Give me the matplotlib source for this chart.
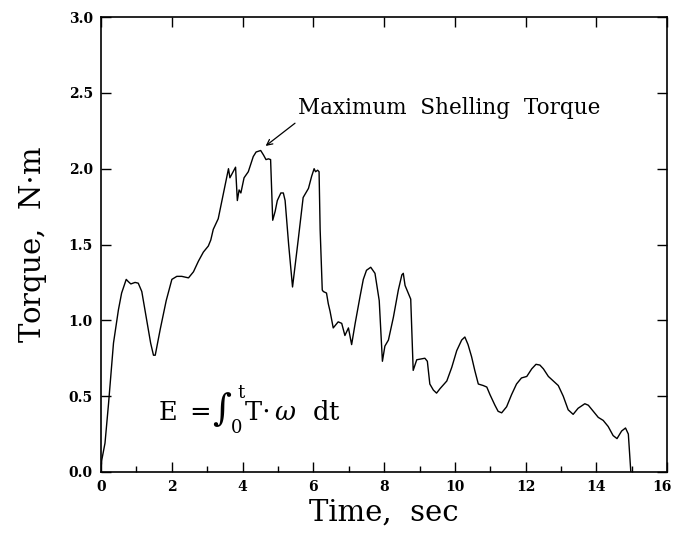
import matplotlib
matplotlib.use("Agg")
import matplotlib.pyplot as plt
import matplotlib.transforms as mtransforms
from matplotlib.ticker import MultipleLocator

time_s = [0.0, 0.02, 0.11, 0.21, 0.35, 0.49, 0.58, 0.71, 0.77, 0.84, 0.96, 1.05, 1.15, 1.29, 1.40,
          1.48, 1.53, 1.67, 1.84, 2.00, 2.14, 2.28, 2.47, 2.61, 2.75, 2.89, 3.03, 3.10, 3.17, 3.31,
          3.46, 3.60, 3.64, 3.80, 3.85, 3.90, 3.95, 4.04, 4.16, 4.30, 4.38, 4.51, 4.59, 4.66, 4.73,
          4.79, 4.85, 4.92, 4.98, 5.08, 5.15, 5.20, 5.30, 5.41, 5.57, 5.71, 5.86, 5.95, 6.02, 6.06,
          6.12, 6.16, 6.19, 6.25, 6.28, 6.37, 6.42, 6.47, 6.56, 6.70, 6.80, 6.89, 6.99, 7.08, 7.18,
          7.32, 7.41, 7.50, 7.62, 7.74, 7.86, 7.95, 8.02, 8.12, 8.26, 8.40, 8.50, 8.54, 8.59, 8.68,
          8.75, 8.82, 8.92, 9.15, 9.22, 9.29, 9.39, 9.48, 9.58, 9.77, 9.91, 10.05, 10.19, 10.28,
          10.37, 10.47, 10.56, 10.66, 10.80, 10.90, 10.99, 11.13, 11.22, 11.32, 11.46, 11.60, 11.74,
          11.88, 12.03, 12.17, 12.29, 12.40, 12.50, 12.64, 12.78, 12.92, 13.06, 13.20, 13.34, 13.48,
          13.67, 13.77, 13.91, 14.05, 14.19, 14.33, 14.47, 14.58, 14.71, 14.82, 14.90, 14.97]
torque = [0.03, 0.08, 0.19, 0.45, 0.85, 1.07, 1.18, 1.27, 1.255, 1.24, 1.25, 1.245, 1.19, 1.00, 0.85,
          0.77, 0.77, 0.94, 1.13, 1.27, 1.29, 1.29, 1.28, 1.32, 1.39, 1.45, 1.49, 1.53, 1.60, 1.67,
          1.84, 2.00, 1.94, 2.01, 1.79, 1.86, 1.84, 1.94, 1.98, 2.08, 2.11, 2.12, 2.09, 2.06, 2.065,
          2.06, 1.66, 1.72, 1.79, 1.84, 1.84, 1.79, 1.50, 1.22, 1.53, 1.81, 1.87, 1.95, 2.00, 1.98,
          1.99, 1.98, 1.60, 1.20, 1.19, 1.18, 1.11, 1.06, 0.95, 0.99, 0.98, 0.90, 0.95, 0.84, 0.98,
          1.16, 1.27, 1.33, 1.35, 1.31, 1.13, 0.73, 0.83, 0.87, 1.02, 1.20, 1.30, 1.31, 1.23, 1.18,
          1.14, 0.67, 0.74, 0.75, 0.73, 0.58, 0.54, 0.52, 0.55, 0.60, 0.69, 0.80, 0.87, 0.89,
          0.84, 0.76, 0.67, 0.58, 0.57, 0.56, 0.51, 0.44, 0.40, 0.39, 0.43, 0.51, 0.58,
          0.62, 0.63, 0.68, 0.71, 0.705, 0.68, 0.63, 0.60, 0.57, 0.50, 0.41, 0.38, 0.42,
          0.45, 0.44, 0.40, 0.36, 0.34, 0.30, 0.24, 0.22, 0.27, 0.29, 0.25, 0.0]

x_ticks = [0, 2, 4, 6, 8, 10, 12, 14, 16]
y_ticks = [0.0, 0.5, 1.0, 1.5, 2.0, 2.5, 3.0]

plt.rcParams['font.family'] = 'DejaVu Serif'
plt.rcParams['mathtext.fontset'] = 'dejavuserif'

fig = plt.figure(figsize=(6.74, 5.33), dpi=100)
ax = fig.add_axes([0.150, 0.1145, 0.840, 0.8535])
ax.plot(time_s, torque, color='black', lw=1.0)
ax.set_xlim(0, 16)
ax.set_ylim(0, 3.0)
ax.set_xticks(x_ticks)
ax.set_yticks(y_ticks)
ax.set_xticklabels([str(v) for v in x_ticks], fontsize=10, fontweight='bold')
ax.set_yticklabels([f"{v:.1f}" for v in y_ticks], fontsize=10, fontweight='bold')
ax.xaxis.set_minor_locator(MultipleLocator(1))
ax.tick_params(axis='both', which='major', direction='in', length=7, width=1,
               top=True, right=True, pad=6)
ax.tick_params(axis='x', which='minor', direction='in', length=4, width=1, top=False)
for s in ax.spines.values():
    s.set_linewidth(1.2)

# nudge the last x tick label so it stays inside the figure
last = ax.get_xticklabels()[-1]
last.set_transform(last.get_transform() +
                   mtransforms.ScaledTranslation(-4 / 72, 0, fig.dpi_scale_trans))

ax.set_xlabel('Time,  sec', fontsize=21, labelpad=3)
ax.set_ylabel('Torque,  N$\\cdot$m', fontsize=21, labelpad=14)

ax.text(5.56, 2.40, 'Maximum  Shelling  Torque', fontsize=15.5, va='center', ha='left')
ax.annotate('', xy=(4.65, 2.15), xytext=(5.48, 2.30),
            arrowprops=dict(arrowstyle='->', color='black', lw=0.9,
                            shrinkA=0, shrinkB=0))

ax.text(1.62, 0.41, r'E $=\!\int_{\mathrm{0}}^{\,\mathrm{t}}$T$\cdot\,\omega$  dt', fontsize=18.5,
        va='center', ha='left')

fig.savefig('out.png', dpi=100)
